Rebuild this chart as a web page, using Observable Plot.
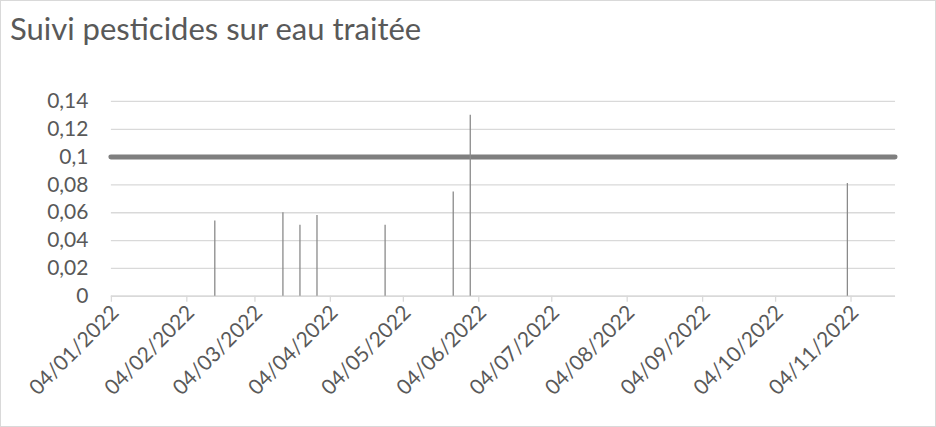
<!DOCTYPE html>
<html>
<head>
<meta charset="utf-8">
<script src="https://cdn.jsdelivr.net/npm/d3@7"></script>
<script src="https://cdn.jsdelivr.net/npm/@observablehq/plot@0.6"></script>
<style>
  html, body { margin: 0; padding: 0; background: #fff; }
  #chart {
    position: relative; width: 936px; height: 427px; box-sizing: border-box;
    border: 1px solid #d9d9d9; overflow: hidden; background: #fff;
  }
  #title {
    position: absolute; left: 9px; top: 12px; margin: 0;
    font-family: Lato, "Open Sans", sans-serif; font-size: 31px; line-height: 30px;
    color: #595959; font-weight: 400; white-space: nowrap;
  }
  #plot { position: absolute; left: -1px; top: 59px; }
</style>
</head>
<body>
<div id="chart">
  <div id="title">Suivi pesticides sur eau traitée</div>
  <div id="plot"></div>
</div>
<script>
// Sample dates and measured pesticide concentrations
const sampleDates = ["2022-02-15", "2022-03-15", "2022-03-22", "2022-03-29", "2022-04-26", "2022-05-24", "2022-05-31", "2022-11-02"];
const sampleValues = [0.054, 0.06, 0.051, 0.058, 0.051, 0.075, 0.13, 0.081];
// Regulatory limit
const limitValue = 0.1;
// Axis ticks
const yTicks = [0, 0.02, 0.04, 0.06, 0.08, 0.1, 0.12, 0.14];
const xTickDates = ["2022-01-04", "2022-02-04", "2022-03-04", "2022-04-04", "2022-05-04", "2022-06-04", "2022-07-04", "2022-08-04", "2022-09-04", "2022-10-04", "2022-11-04"];
const xDomain = ["2022-01-04T00:00Z", "2022-11-22T07:00Z"];

const toDate = s => new Date(s.length === 10 ? s + "T00:00Z" : s);
const samples = sampleDates.map((d, i) => ({date: new Date(toDate(d).getTime() + 12 * 3600e3), value: sampleValues[i]}));
const tickDates = xTickDates.map(toDate);
const fmtX = d3.utcFormat("%d/%m/%Y");
const fmtY = d => String(d).replace(".", ",");

const chart = Plot.plot({
  width: 936,
  height: 367,
  marginTop: 41,
  marginBottom: 131,
  marginLeft: 111,
  marginRight: 40,
  style: {fontFamily: "Lato, 'Open Sans', sans-serif", fontSize: "21px", color: "#595959", background: "transparent", overflow: "visible"},
  x: {type: "utc", domain: xDomain.map(toDate)},
  y: {domain: [0, 0.14]},
  marks: [
    Plot.gridY(yTicks, {stroke: "#d9d9d9", strokeOpacity: 1, strokeWidth: 1.3}),
    Plot.axisY(yTicks, {tickSize: 0, tickPadding: 23, tickFormat: fmtY, fill: "#595959", fontSize: 21, label: null}),
    Plot.ruleY([0], {stroke: "#d9d9d9", strokeWidth: 1.3}),
    Plot.axisX(tickDates, {tickSize: 6, stroke: "#d9d9d9", strokeOpacity: 1, strokeWidth: 1.3, tickFormat: () => "", label: null}),
    Plot.axisX(tickDates, {tickSize: 0, tickPadding: 10, tickRotate: -45, dx: 4, dy: 3, tickFormat: fmtX, fill: "#595959", fontSize: 21, label: null}),
    Plot.ruleY([limitValue], {stroke: "#7f7f7f", strokeWidth: 5, strokeLinecap: "round"}),
    Plot.ruleX(samples, {x: "date", y1: 0, y2: "value", stroke: "#8a8a8a", strokeWidth: 1.3})
  ]
});
document.getElementById("plot").appendChild(chart);
</script>
</body>
</html>
